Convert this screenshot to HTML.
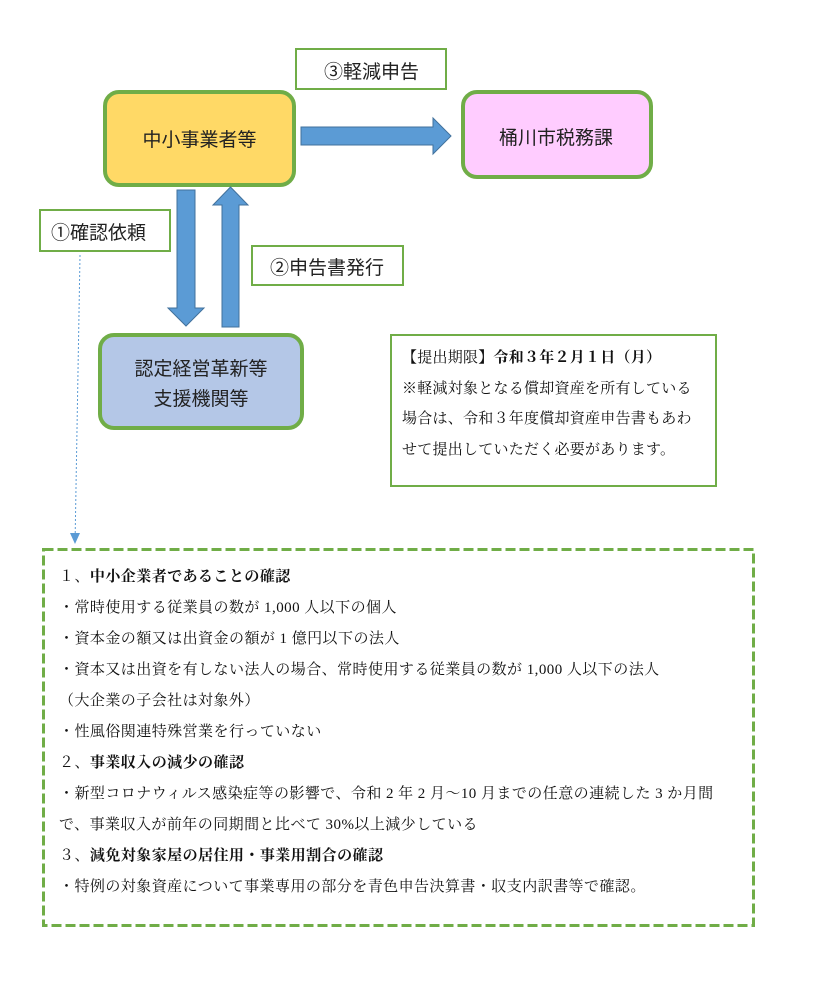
<!DOCTYPE html>
<html lang="ja">
<head>
<meta charset="utf-8">
<style>
  html, body { margin:0; padding:0; background:#fff; }
  body { width:819px; height:990px; position:relative; overflow:hidden; }
  .box { position:absolute; box-sizing:border-box; border:4px solid #70AD47; border-radius:16px; }
  .lbl { position:absolute; box-sizing:border-box; border:2px solid #70AD47; background:#fff; }
  .t { position:absolute; white-space:nowrap; font-family:"Noto Sans CJK JP", "Liberation Sans", sans-serif; font-size:19px; line-height:30px; color:#222; }
  .m { position:absolute; white-space:nowrap; font-family:"Liberation Serif", "Noto Serif CJK SC", serif; font-size:15px; color:#111; }
  .m b { font-weight:700; }
  #panel { left:402px; top:343px; line-height:30.5px; letter-spacing:0.25px; }
  #dash { left:59px; top:562px; line-height:31px; letter-spacing:0.45px; }
  svg { position:absolute; left:0; top:0; }
</style>
</head>
<body>

<!-- main boxes -->
<div class="box" style="left:103px;top:90px;width:193px;height:97px;background:#FFD966;"></div>
<div class="box" style="left:461px;top:90px;width:192px;height:89px;background:#FFCCFF;"></div>
<div class="box" style="left:98px;top:333px;width:206px;height:97px;background:#B4C7E7;"></div>

<!-- label boxes -->
<div class="lbl" style="left:295px;top:48px;width:152px;height:42px;"></div>
<div class="lbl" style="left:39px;top:209px;width:132px;height:43px;"></div>
<div class="lbl" style="left:251px;top:245px;width:153px;height:41px;"></div>
<div class="lbl" style="left:390px;top:334px;width:327px;height:153px;"></div>

<svg width="819" height="990" viewBox="0 0 819 990">
  <!-- right arrow -->
  <polygon points="301,127 433,127 433,118 451,136 433,154 433,145 301,145" fill="#5B9BD5" stroke="#41719C" stroke-width="1"/>
  <!-- down arrow -->
  <polygon points="177,190 195,190 195,308 204,308 186,326 168,308 177,308" fill="#5B9BD5" stroke="#41719C" stroke-width="1"/>
  <!-- up arrow -->
  <polygon points="230.5,187 248,205 239,205 239,327 222,327 222,205 213,205" fill="#5B9BD5" stroke="#41719C" stroke-width="1"/>
  <!-- dotted connector -->
  <line x1="80" y1="255" x2="75.2" y2="534" stroke="#5B9BD5" stroke-width="1" stroke-dasharray="2,2"/>
  <polygon points="70,533 80,533 75,544" fill="#5B9BD5"/>
  <!-- dashed box -->
  <rect x="43.5" y="549.5" width="710" height="376" fill="none" stroke="#70AD47" stroke-width="3" stroke-dasharray="10,4"/>
</svg>

<!-- box texts -->
<div class="t" style="left:142.5px;top:124px;">中小事業者等</div>
<div class="t" style="left:499px;top:122px;">桶川市税務課</div>
<div class="t" style="left:324px;top:56px;">③軽減申告</div>
<div class="t" style="left:51px;top:217px;">①確認依頼</div>
<div class="t" style="left:270px;top:252px;">②申告書発行</div>
<div class="t" style="left:134.5px;top:353px;">認定経営革新等</div>
<div class="t" style="left:153.5px;top:383px;">支援機関等</div>

<!-- panel text -->
<div class="m" id="panel">【提出期限】<b>令和３年２月１日（月）</b><br>※軽減対象となる償却資産を所有している<br>場合は、令和３年度償却資産申告書もあわ<br>せて提出していただく必要があります。</div>

<!-- dashed box text -->
<div class="m" id="dash">１、<b>中小企業者であることの確認</b><br>・常時使用する従業員の数が 1,000 人以下の個人<br>・資本金の額又は出資金の額が 1 億円以下の法人<br>・資本又は出資を有しない法人の場合、常時使用する従業員の数が 1,000 人以下の法人<br>（大企業の子会社は対象外）<br>・性風俗関連特殊営業を行っていない<br>２、<b>事業収入の減少の確認</b><br>・新型コロナウィルス感染症等の影響で、令和 2 年 2 月～10 月までの任意の連続した 3 か月間<br>で、事業収入が前年の同期間と比べて 30%以上減少している<br>３、<b>減免対象家屋の居住用・事業用割合の確認</b><br>・特例の対象資産について事業専用の部分を青色申告決算書・収支内訳書等で確認。</div>

</body>
</html>
